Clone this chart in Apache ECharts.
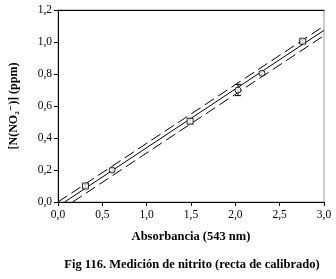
<!DOCTYPE html>
<html><head><meta charset="utf-8">
<script src="https://cdn.jsdelivr.net/npm/echarts@6/dist/echarts.min.js"></script>
<style>html,body{margin:0;padding:0;background:#fff}#c{width:336px;height:279px}</style>
</head><body><div id="c"></div>
<script>
// data
var absorbance = [0.31, 0.61, 1.49, 2.03, 2.30, 2.76];
var concentration = [0.10, 0.20, 0.505, 0.70, 0.805, 1.005];
var errors = [0.01, 0.01, 0.015, 0.035, 0.01, 0.01];
var fitX = [0.075, 3.0];
var fitY = [0.0, 1.073];
var upperX = [0.0, 3.0];
var upperY = [0.0, 1.10];
var lowerX = [0.165, 3.0];
var lowerY = [0.0, 1.04];
var xTicks = [0, 0.5, 1.0, 1.5, 2.0, 2.5, 3.0];
var yTicks = [0, 0.2, 0.4, 0.6, 0.8, 1.0, 1.2];

var markerShapes = ['rect', 'circle', 'rect', 'circle', 'circle', 'rect'];
function pairs(xs, ys){ return xs.map(function(x,i){return [x, ys[i]];}); }
var serif = '"Liberation Serif","DejaVu Serif",serif';
var fmt = function(v){ return v.toFixed(1).replace('.', ','); };

var chart = echarts.init(document.getElementById('c'));
chart.setOption({
  animation: false,
  backgroundColor: '#fff',
  grid: {left: 57, right: 12, top: 10, bottom: 77, show: true, borderColor: '#999', borderWidth: 1},
  title: {text: 'Fig 116. Medición de nitrito (recta de calibrado)', left: 187, top: 253, textAlign: 'center',
    textStyle: {fontFamily: serif, fontSize: 12.5, fontWeight: 'bold', color: '#000'}},
  xAxis: [{type: 'value', min: 0, max: 3, interval: 0.5,
    name: 'Absorbancia (543 nm)', nameLocation: 'middle', nameGap: 28,
    nameTextStyle: {fontFamily: serif, fontSize: 12.5, fontWeight: 'bold', color: '#000'},
    axisLine: {lineStyle: {color: '#000', width: 1}},
    axisTick: {inside: false, length: 4, lineStyle: {color: '#000'}},
    axisLabel: {fontFamily: serif, fontSize: 11.5, color: '#000', margin: 7, formatter: fmt},
    splitLine: {show: false}},
   {type: 'value', position: 'top', min: 0, max: 3,
    axisLine: {show: true, onZero: false, lineStyle: {color: '#000', width: 1}},
    axisTick: {show: false}, axisLabel: {show: false}, splitLine: {show: false}}],
  yAxis: {type: 'value', min: 0, max: 1.2, interval: 0.2,
    name: '[N(NO₂⁻)] (ppm)', nameLocation: 'middle', nameGap: 38, nameRotate: 90,
    nameTextStyle: {fontFamily: serif, fontSize: 12, fontWeight: 'bold', color: '#000'},
    axisLine: {lineStyle: {color: '#000', width: 1}},
    axisTick: {inside: false, length: 4, lineStyle: {color: '#000'}},
    axisLabel: {fontFamily: serif, fontSize: 11.5, color: '#000', margin: 6, formatter: fmt},
    splitLine: {show: false}},
  series: [
    {type: 'line', data: pairs(upperX, upperY), symbol: 'none', lineStyle: {color: '#000', width: 1, type: [11, 5]}},
    {type: 'line', data: pairs(fitX, fitY), symbol: 'none', lineStyle: {color: '#000', width: 1}},
    {type: 'line', data: pairs(lowerX, lowerY), symbol: 'none', lineStyle: {color: '#000', width: 1, type: [11, 5]}},
    {type: 'custom', data: absorbance.map(function(x,i){return [x, concentration[i], errors[i]];}),
      renderItem: function(params, api){
        var x = api.value(0), y = api.value(1), e = api.value(2);
        var p1 = api.coord([x, y + e]), p2 = api.coord([x, y - e]);
        var w = 3;
        var st = {stroke: '#000', lineWidth: 1};
        return {type: 'group', children: [
          {type: 'line', shape: {x1: p1[0], y1: p1[1], x2: p2[0], y2: p2[1]}, style: st},
          {type: 'line', shape: {x1: p1[0]-w, y1: p1[1], x2: p1[0]+w, y2: p1[1]}, style: st},
          {type: 'line', shape: {x1: p2[0]-w, y1: p2[1], x2: p2[0]+w, y2: p2[1]}, style: st}
        ]};
      }, z: 3},
    {type: 'scatter', data: pairs(absorbance, concentration),
      symbol: function(v, p){ return markerShapes[p.dataIndex]; }, symbolSize: 6,
      itemStyle: {color: '#fff', borderColor: '#000', borderWidth: 1}, z: 4}
  ]
});
</script></body></html>
